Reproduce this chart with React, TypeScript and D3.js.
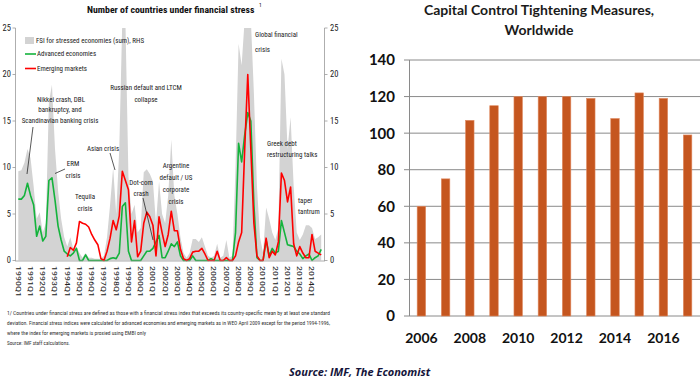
import React from "react";
import * as d3 from "d3";

// ---------- Left panel data (quarterly, 1990Q1 .. 2014Q4) ----------
const quarterTickLabels = [
  "1990Q1", "1991Q1", "1992Q1", "1993Q1", "1994Q1", "1995Q1", "1996Q1", "1997Q1",
  "1998Q1", "1999Q1", "2000Q1", "2001Q1", "2002Q1", "2003Q1", "2004Q1", "2005Q1",
  "2006Q1", "2007Q1", "2008Q1", "2009Q1", "2010Q1", "2011Q1", "2012Q1", "2013Q1", "2014Q1",
];

const advanced: number[] = [
  6.6, 6.6, 7.0, 8.3,
  7.0, 6.0, 2.6, 3.7,
  2.1, 2.6, 8.6, 8.9,
  6.5, 3.7, 2.2, 1.0,
  0.7, 0.5, 0.8, 1.3,
  0, 0, 0.6, 0,
  0, 0, 0, 0,
  0, 0, 0.2, 0.3,
  0.2, 0.8, 5.8, 6.2,
  1.0, 0, 0, 0,
  0, 0.5, 1.0, 1.0,
  1.3, 2.0, 2.7, 0.3,
  0.3, 1.0, 1.8, 1.5,
  2.0, 0.5, 0, 0,
  0, 0.5, 0, 0,
  0, 0, 0, 0.2,
  0, 0, 0, 0,
  0, 0, 0, 3.0,
  12.6, 10.6, 13.5, 15.9,
  15.0, 6.0, 0.3, 0,
  0, 2.2, 0.5, 1.3,
  0.8, 1.0, 4.3, 3.0,
  1.7, 1.6, 1.5, 1.0,
  0.7, 0.2, 0.5, 0.7,
  0, 0.3, 0.5, 1.2,
];

const emerging: (number | null)[] = [
  null, null, null, null,
  null, null, null, null,
  null, null, null, null,
  null, null, null, null,
  0.4, 1.4, 1.1, 1.9,
  4.2, 4.0, 3.9, 3.6,
  2.8, 2.2, 1.7, 0.2,
  0, 1.0, 2.4, 4.3,
  3.3, 4.8, 9.6, 8.6,
  7.6, 2.0, 4.3, 0.4,
  1.0, 4.0, 5.2, 4.7,
  3.8, 0.5, 4.7, 3.0,
  1.5, 2.8, 5.3, 3.2,
  3.2, 1.2, 0.2, 0,
  0.2, 0.9, 1.0, 1.0,
  1.3, 0.7, 0, 0,
  0, 1.0, 0, 0,
  0.3, 0, 0, 0.5,
  2.0, 3.0, 12, 20.0,
  12, 4, 0.5, 0,
  0, 2.4, 0.3, 1.0,
  0.6, 2.0, 9.4, 8.6,
  6.3, 7.9, 1.8, 0.5,
  1.5, 0.8, 0.3, 0.3,
  2.8, 1.0, 0.8, 0.6,
];

const fsi: number[] = [
  9.6, 9.7, 10.5, 12.0,
  11.0, 8.0, 4.5, 5.2,
  3.0, 4.0, 17, 18.9,
  12, 7.5, 4.5, 2.5,
  1.5, 2.5, 1.2, 1.5,
  0.8, 0.3, 0.8, 0.3,
  0.3, 0.2, 0.2, 0.2,
  0.5, 2.5, 6, 10.0,
  5.0, 12, 26, 26,
  9, 5, 6, 3,
  3.5, 9.5, 9.8, 9.3,
  8.5, 4, 8.5, 5,
  4, 7, 13.0, 7,
  5, 2.5, 0.8, 0.3,
  0.8, 2.3, 2.3, 2.0,
  2.5, 1.5, 0.5, 0.3,
  0.5, 1.8, 0.3, 0.5,
  2.2, 0.3, 0.5, 10,
  23.3, 21, 26, 26,
  26, 18, 8, 2.5,
  0.8, 5.7, 4.5, 3.0,
  2.2, 3.5, 21.7, 20,
  12, 15.4, 8, 3,
  2.2, 2.8, 3.8, 3.8,
  3.5, 2.3, 2.5, 2.8,
];

const leftTicks = [0, 5, 10, 15, 20, 25];

// ---------- Right panel data ----------
const years = ["2006", "2007", "2008", "2009", "2010", "2011", "2012", "2013", "2014", "2015", "2016", "2017"];
const measures = [60, 75, 107, 115, 120, 120, 120, 119, 108, 122, 119, 99];
const yearTickLabels = ["2006", "2008", "2010", "2012", "2014", "2016"];
const rightTicks = [0, 20, 40, 60, 80, 100, 120, 140];

const footnote = [
  "1/ Countries under financial stress are defined as those with a financial stress index that exceeds its country-specific mean by at least one standard",
  "deviation. Financial stress indices were calculated for advanced economies and emerging markets as in WEO April 2009 except for the period 1994-1996,",
  "where the index for emerging markets is proxied using EMBI only",
  "Source: IMF staff calculations.",
];

const NARROW = "'Liberation Sans Narrow', 'Arial Narrow', 'Roboto Condensed', 'Liberation Sans', sans-serif";
const CAL = "Lato, 'Open Sans', sans-serif";

export default function App() {
  const W = 700, H = 381;
  const x = d3.scaleLinear().domain([0, advanced.length - 1]).range([18.3, 321.2]);
  const y = d3.scaleLinear().domain([0, 25]).range([260.5, 28]);
  const area = d3.area<number>().x((_, i) => x(i)).y0(y(0)).y1((d) => y(d));
  const lineA = d3.line<number>().x((_, i) => x(i)).y((d) => y(d));
  const lineE = d3
    .line<number | null>()
    .defined((d) => d !== null)
    .x((_, i) => x(i))
    .y((d) => y(d as number));

  const xb = d3.scaleBand().domain(years).range([409.3, 699.7]).paddingInner(0.65).paddingOuter(0.325);
  const yb = d3.scaleLinear().domain([0, 140]).range([316, 60]);

  const ann = { fontFamily: NARROW, fontSize: 7, fill: "#222" } as const;

  return (
    <svg width={W} height={H} style={{ position: "absolute", left: 0, top: 0, background: "#fff" }}>
      <defs>
        <clipPath id="plotclip">
          <rect x={15} y={28} width={310} height={234} />
        </clipPath>
      </defs>

      {/* ---------- LEFT PANEL ---------- */}
      <text x={87} y={13} fontFamily={NARROW} fontWeight="bold" fontSize={9.8} fill="#111">
        Number of countries under financial stress
      </text>
      <text x={259} y={7} fontFamily={NARROW} fontSize={5.5} fill="#111">1</text>

      <g clipPath="url(#plotclip)">
        <path d={area(fsi) ?? ""} fill="#d3d3d3" />
      </g>
      <path d={lineA(advanced) ?? ""} fill="none" stroke="#14b33c" strokeWidth={1.6} strokeLinejoin="round" />
      <path d={lineE(emerging) ?? ""} fill="none" stroke="#ff0000" strokeWidth={1.6} strokeLinejoin="round" />

      {/* axes */}
      <line x1={15.5} x2={15.5} y1={28} y2={261} stroke="#999" strokeWidth={0.8} />
      <line x1={324.5} x2={324.5} y1={28} y2={261} stroke="#999" strokeWidth={0.8} />
      <line x1={15} x2={325} y1={261} y2={261} stroke="#999" strokeWidth={0.8} />
      {leftTicks.map((t) => (
        <g key={"lt" + t}>
          <line x1={12.5} x2={15.5} y1={y(t)} y2={y(t)} stroke="#999" strokeWidth={0.8} />
          <line x1={324.5} x2={327.5} y1={y(t)} y2={y(t)} stroke="#999" strokeWidth={0.8} />
          <text x={11} y={y(t)} dy="0.35em" textAnchor="end" fontFamily={NARROW} fontSize={8.5} fill="#222">{t}</text>
          <text x={330} y={y(t)} dy="0.35em" textAnchor="start" fontFamily={NARROW} fontSize={8.5} fill="#222">{t}</text>
        </g>
      ))}
      {quarterTickLabels.map((lab, k) => (
        <text key={lab} transform={`translate(${x(k * 4)},266) rotate(90)`} dy="0.35em" fontFamily={NARROW}
          fontSize={7.5} fill="#222" textLength={31} lengthAdjust="spacingAndGlyphs">
          {lab}
        </text>
      ))}

      {/* legend */}
      <rect x={25} y={37} width={9} height={7} fill="#d3d3d3" />
      <text x={36} y={40.5} dy="0.35em" {...ann}>FSI for stressed economies (sum), RHS</text>
      <line x1={25} x2={36} y1={54} y2={54} stroke="#14b33c" strokeWidth={1.6} />
      <text x={37} y={54} dy="0.35em" {...ann}>Advanced economies</text>
      <line x1={25} x2={36} y1={68.5} y2={68.5} stroke="#ff0000" strokeWidth={1.6} />
      <text x={37} y={68.5} dy="0.35em" {...ann}>Emerging markets</text>

      {/* annotations */}
      <g textAnchor="middle" {...ann}>
        <text x={61} y={102}>Nikkei crash, DBL</text>
        <text x={60} y={112}>bankruptcy, and</text>
        <text x={60} y={123}>Scandinavian banking crisis</text>
        <text x={73} y={166}>ERM</text>
        <text x={73} y={178}>crisis</text>
        <text x={85} y={199}>Tequila</text>
        <text x={85} y={211}>crisis</text>
        <text x={103} y={151}>Asian crisis</text>
        <text x={146} y={90}>Russian default and LTCM</text>
        <text x={146} y={102}>collapse</text>
        <text x={141} y={185}>Dot-com</text>
        <text x={141} y={196}>crash</text>
        <text x={176} y={168}>Argentine</text>
        <text x={176} y={180}>default / US</text>
        <text x={176} y={192}>corporate</text>
        <text x={176} y={204}>crisis</text>
      </g>
      <g {...ann}>
        <text x={255} y={37}>Global financial</text>
        <text x={255} y={52}>crisis</text>
        <text x={267} y={146}>Greek debt</text>
        <text x={267} y={157}>restructuring talks</text>
        <text x={298} y={203}>taper</text>
        <text x={298} y={214}>tantrum</text>
      </g>
      <g stroke="#111" strokeWidth={0.7}>
        <line x1={33} y1={127} x2={27} y2={174} />
        <line x1={65} y1={169} x2={55} y2={173.5} />
        <line x1={110} y1={153} x2={115} y2={170} />
        <line x1={143} y1={198} x2={153} y2={240} />
      </g>

      {/* footnote */}
      {footnote.map((t, i) => (
        <text key={i} x={7} y={315 + i * 10} fontFamily={NARROW} fontSize={5.5} fill="#333"
          textLength={i === 0 ? 323 : i === 1 ? 323 : i === 2 ? 139 : 63} lengthAdjust="spacingAndGlyphs">
          {t}
        </text>
      ))}

      {/* ---------- RIGHT PANEL ---------- */}
      <text x={539} y={15} textAnchor="middle" fontFamily={CAL} fontWeight="bold" fontSize={14} fill="#1a1a1a">
        Capital Control Tightening Measures,
      </text>
      <text x={539} y={35} textAnchor="middle" fontFamily={CAL} fontWeight="bold" fontSize={14} fill="#1a1a1a">
        Worldwide
      </text>

      {rightTicks.map((t) => (
        <g key={"rt" + t}>
          <line x1={404} x2={700} y1={yb(t)} y2={yb(t)} stroke="#8a8a8a" strokeWidth={1} />
          <text x={395} y={yb(t)} dy="0.36em" textAnchor="end" fontFamily={CAL} fontWeight="bold" fontSize={15} fill="#111">
            {t}
          </text>
        </g>
      ))}
      <line x1={409.5} x2={409.5} y1={60} y2={316} stroke="#8a8a8a" strokeWidth={1} />

      {years.map((yr, i) => (
        <rect key={yr} x={xb(yr)} y={yb(measures[i])} width={xb.bandwidth()} height={yb(0) - yb(measures[i])}
          fill="#c5561f" stroke="#e08a60" strokeWidth={0.6} />
      ))}
      {yearTickLabels.map((yr) => (
        <text key={yr} x={(xb(yr) ?? 0) + xb.bandwidth() / 2} y={338} dy="0.35em" textAnchor="middle"
          fontFamily={CAL} fontWeight="bold" fontSize={14} fill="#111">
          {yr}
        </text>
      ))}

      {/* source */}
      <text x={289} y={376} fontFamily="'Open Sans', sans-serif" fontWeight="bold" fontStyle="italic" fontSize={11}
        fill="#14143a">
        Source: IMF, The Economist
      </text>
    </svg>
  );
}
